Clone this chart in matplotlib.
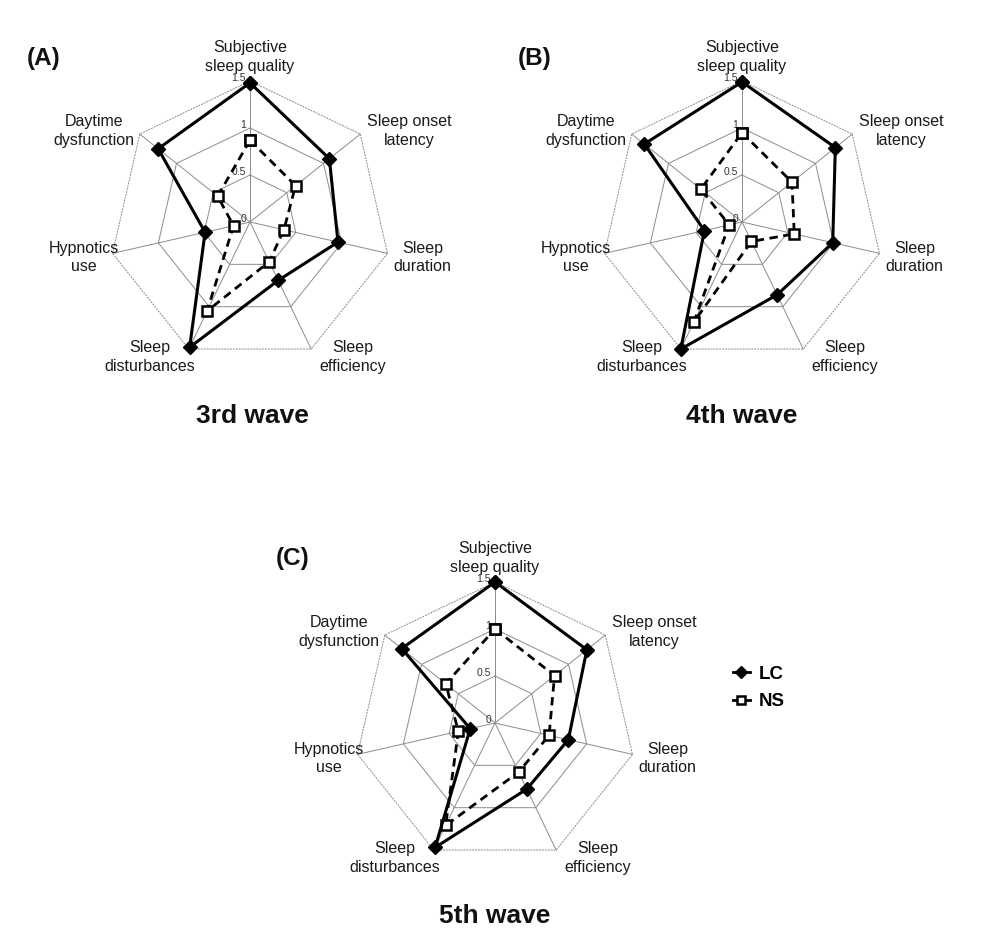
import numpy as np
import matplotlib
matplotlib.use("Agg")
import matplotlib.pyplot as plt
import matplotlib.lines as mlines

plt.rcParams['font.family'] = ['Liberation Sans', 'DejaVu Sans']

# ---- data ----
categories = ["Subjective\nsleep quality", "Sleep onset\nlatency", "Sleep\nduration",
              "Sleep\nefficiency", "Sleep\ndisturbances", "Hypnotics\nuse",
              "Daytime\ndysfunction"]
ring_values = [0.5, 1.0, 1.5]
ring_ticks = [0, 0.5, 1, 1.5]
ring_tick_labels = ["0", "0.5", "1", "1.5"]

wave3_lc = [1.48, 1.08, 0.96, 0.69, 1.48, 0.49, 1.25]
wave3_ns = [0.87, 0.62, 0.37, 0.47, 1.05, 0.18, 0.44]
wave4_lc = [1.49, 1.27, 0.99, 0.86, 1.50, 0.41, 1.33]
wave4_ns = [0.95, 0.68, 0.57, 0.23, 1.18, 0.14, 0.56]
wave5_lc = [1.50, 1.25, 0.80, 0.78, 1.47, 0.27, 1.27]
wave5_ns = [1.00, 0.81, 0.59, 0.58, 1.21, 0.40, 0.67]

panel_letters = ["(A)", "(B)", "(C)"]
wave_titles = ["3rd wave", "4th wave", "5th wave"]
series_names = ["LC", "NS"]

# ---- layout ----
W, H = 1002, 944
fig = plt.figure(figsize=(W / 100, H / 100), dpi=100)
fig.patch.set_facecolor("white")

R = 141  # pixel radius of 1.5 ring
centers = [(250, 222), (742, 222), (495, 723)]
letter_pos = [(27, 58), (518, 58), (276, 558)]
title_pos = [(252, 416), (742, 416), (495, 916)]

label_style = [
    dict(xytext=(0, 7), ha="center", va="bottom"),
    dict(xytext=(7, 3), ha="left", va="center"),
    dict(xytext=(6, -4), ha="left", va="center"),
    dict(xytext=(8, -8), ha="left", va="center"),
    dict(xytext=(6, -8), ha="right", va="center"),
    dict(xytext=(6, -4), ha="right", va="center"),
    dict(xytext=(-5, 3), ha="right", va="center"),
]

n = len(categories)
theta = np.arange(n) * 2 * np.pi / n
theta_closed = np.append(theta, theta[0])

grid_color = "#8c8c8c"
waves = [(wave3_lc, wave3_ns), (wave4_lc, wave4_ns), (wave5_lc, wave5_ns)]

for i, ((lc, ns), (cx, cy)) in enumerate(zip(waves, centers)):
    rect = [(cx - R) / W, (H - cy - R) / H, 2 * R / W, 2 * R / H]
    ax = fig.add_axes(rect, projection="polar")
    ax.set_theta_zero_location("N")
    ax.set_theta_direction(-1)
    ax.set_ylim(0, 1.5)
    ax.axis("off")

    # grid: spokes and heptagon rings
    for th in theta:
        ax.plot([th, th], [0, 1.5], color=grid_color, lw=0.7, clip_on=False, zorder=1)
    for r in ring_values:
        ax.plot(theta_closed, [r] * (n + 1), color=grid_color, lw=0.7,
                linestyle=(0, (2, 1)) if r == 1.5 else "-", clip_on=False, zorder=1)

    # ring tick labels
    for rv, rl in zip(ring_ticks, ring_tick_labels):
        ax.annotate(rl, xy=(0, rv), xytext=(-4, 3), textcoords="offset pixels",
                    ha="right", va="center", fontsize=7.5, color="#333333",
                    annotation_clip=False, zorder=2)

    # series
    ns_vals = np.append(ns, ns[0])
    lc_vals = np.append(lc, lc[0])
    ax.plot(theta_closed, ns_vals, color="black", lw=2.0, dashes=(3, 2),
            marker="s", ms=6.5, mfc="white", mec="black", mew=1.8,
            clip_on=False, zorder=3)
    ax.plot(theta_closed, lc_vals, color="black", lw=2.2, linestyle="-",
            marker="D", ms=7, mfc="black", mec="black",
            clip_on=False, zorder=4)

    # category labels
    for k, cat in enumerate(categories):
        st = label_style[k]
        ax.annotate(cat, xy=(theta[k], 1.5), xytext=st["xytext"],
                    textcoords="offset pixels", ha=st["ha"], va=st["va"],
                    multialignment="center", fontsize=11.5, color="#1a1a1a",
                    linespacing=1.3, annotation_clip=False)

    lx, ly = letter_pos[i]
    fig.text(lx / W, 1 - ly / H, panel_letters[i], fontsize=17.5, fontweight="bold",
             ha="left", va="center", color="#111111")
    tx, ty = title_pos[i]
    fig.text(tx / W, 1 - ty / H, wave_titles[i], fontsize=19, fontweight="bold",
             ha="center", va="center", color="#111111")

# legend
h_lc = mlines.Line2D([], [], color="black", lw=2.0, marker="D", ms=6, mfc="black")
h_ns = mlines.Line2D([], [], color="black", lw=2.0, marker="s", ms=5.5, mfc="white",
                     mec="black", mew=1.8)
fig.legend([h_lc, h_ns], series_names, loc="center left",
           bbox_to_anchor=(733 / W, 1 - 688 / H), frameon=False,
           prop=dict(size=13.5, weight="bold"), handlelength=0.9,
           handletextpad=0.5, labelspacing=0.55, borderpad=0, borderaxespad=0)

fig.savefig("out.png", dpi=100, facecolor="white")
